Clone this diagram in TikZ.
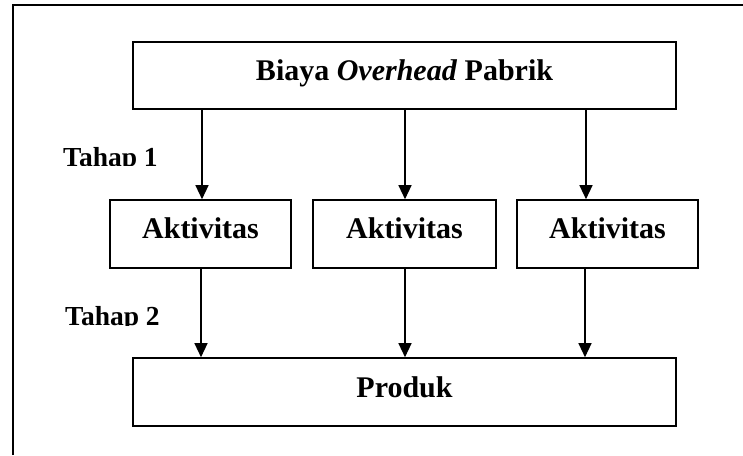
\documentclass[tikz,border=0pt]{standalone}
\usepackage{fontspec}
\setmainfont{Liberation Serif}
\usetikzlibrary{arrows.meta}
\begin{document}
\begin{tikzpicture}[x=1pt,y=1pt,
  box/.style={draw=black, line width=1.6pt, inner sep=0pt,
    text height=15pt, text depth=5pt,
    font=\fontsize{30}{33}\selectfont\bfseries},
  arr/.style={line width=1.3pt, -{Triangle[width=13pt,length=14pt]}},
  stage/.style={inner sep=0pt, anchor=base west,
    font=\fontsize{27.5}{31}\selectfont\bfseries}]
\useasboundingbox (0,0) rectangle (743,455);
\fill[white] (0,0) rectangle (743,455);

% open frame: left and top edges only
\coordinate (fbl) at (13,0);
\coordinate (ftl) at (13,450);
\coordinate (ftr) at (743,450);
\draw[line width=1.8pt] (fbl) -- (ftl) -- (ftr);

% boxes
\node[box, minimum width=543pt, minimum height=67pt] (bop) at (404.5,379.5)
  {Biaya \textit{Overhead} Pabrik};
\node[box, minimum width=181pt, minimum height=68pt] (a1) at (200.5,221) {Aktivitas};
\node[box, minimum width=183pt, minimum height=68pt] (a2) at (404.5,221) {Aktivitas};
\node[box, minimum width=181pt, minimum height=68pt] (a3) at (607.5,221) {Aktivitas};
\node[box, minimum width=543pt, minimum height=68pt] (prod) at (404.5,63) {Produk};

% arrow columns
\coordinate (u1) at (202,0);
\coordinate (u2) at (405,0);
\coordinate (u3) at (586,0);
\coordinate (d1) at (201,0);
\coordinate (d2) at (405,0);
\coordinate (d3) at (585,0);

\draw[arr] (bop.south -| u1) -- (a1.north -| u1);
\draw[arr] (bop.south -| u2) -- (a2.north -| u2);
\draw[arr] (bop.south -| u3) -- (a3.north -| u3);
\draw[arr] (a1.south -| d1) -- (prod.north -| d1);
\draw[arr] (a2.south -| d2) -- (prod.north -| d2);
\draw[arr] (a3.south -| d3) -- (prod.north -| d3);

% stage labels, cut off at the baseline
\begin{scope}
  \clip (40,289) rectangle (200,320);
  \node[stage] (t1) at (63,288.5) {Tahap 1};
\end{scope}
\begin{scope}
  \clip (40,130) rectangle (200,165);
  \node[stage] (t2) at (65,129.5) {Tahap 2};
\end{scope}
\end{tikzpicture}
\end{document}
